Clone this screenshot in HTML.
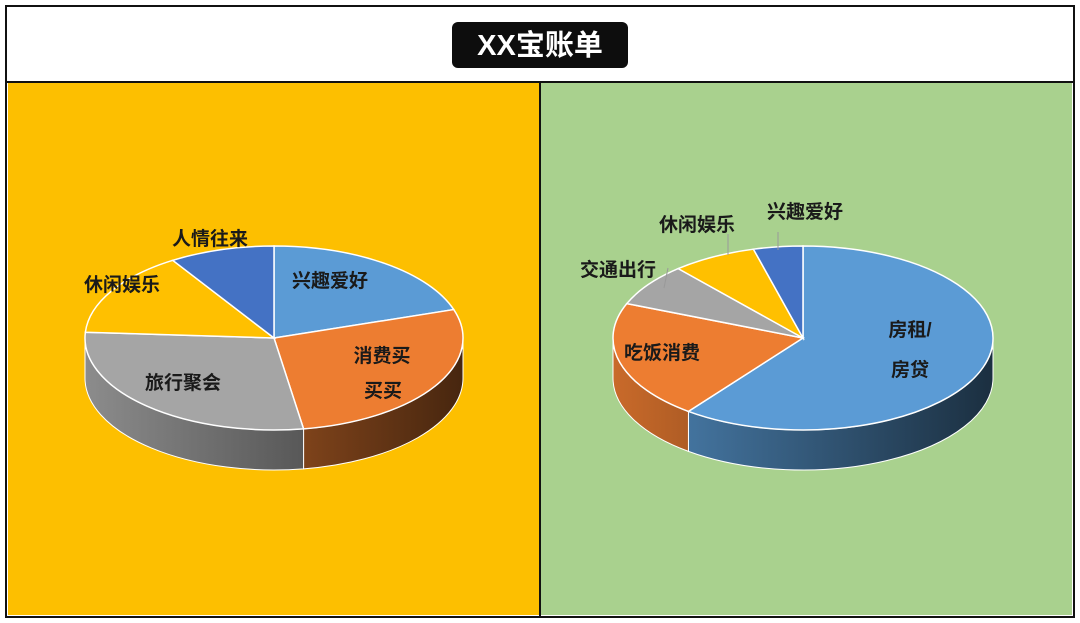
<!DOCTYPE html>
<html><head><meta charset="utf-8"><style>
body{margin:0;width:1080px;height:623px;background:#fff;overflow:hidden;font-family:"Liberation Sans","Noto Sans CJK SC",sans-serif}
svg{position:absolute;left:0;top:0}
</style></head><body>
<svg id="s" width="1080" height="623">
<rect x="6" y="6" width="1068" height="611" fill="#fff" stroke="#111" stroke-width="2"/>
<rect x="8" y="83" width="531" height="532" fill="#fdbf00"/>
<rect x="541" y="83" width="531" height="532" fill="#a9d18e"/>
<line x1="6" y1="82" x2="1074" y2="82" stroke="#111" stroke-width="2"/>
<line x1="540" y1="82" x2="540" y2="617" stroke="#111" stroke-width="2"/>
<rect x="452" y="22" width="176" height="46" rx="6" fill="#0d0d0d"/>
<text x="540" y="55" text-anchor="middle" fill="#fff" font-size="29" font-weight="bold">XX宝账单</text>
</svg>
<script>
const leftCats=["兴趣爱好","消费买买买","旅行聚会","休闲娱乐","人情往来"];
const leftVals=[20,27.5,28.5,15,9];
const rightCats=["房租/房贷","吃饭消费","交通出行","休闲娱乐","兴趣爱好"];
const rightVals=[60.3,20.8,7.5,7.2,4.2];
const leftColors=["#5b9bd5","#ed7d31","#a5a5a5","#ffc000","#4472c4"];
const rightColors=["#5b9bd5","#ed7d31","#a5a5a5","#ffc000","#4472c4"];
const NS="http://www.w3.org/2000/svg";
const svg=document.getElementById('s');
function mk(t,a,p){const e=document.createElementNS(NS,t);for(const k in a)e.setAttribute(k,a[k]);(p||svg).appendChild(e);return e;}
function shade(hex,f){const n=parseInt(hex.slice(1),16);const r=Math.round(((n>>16)&255)*f),g=Math.round(((n>>8)&255)*f),b=Math.round((n&255)*f);return `rgb(${r},${g},${b})`;}
const defs=mk('defs',{});
function pie(id,cx,cy,rx,ry,depth,vals,colors,cats){
  const tot=vals.reduce((a,b)=>a+b,0);
  const P=(a,d)=>{const r=a*Math.PI/180;return [cx+rx*Math.sin(r),cy-ry*Math.cos(r)+(d||0)];};
  const g=mk('g',{});
  let acc=0;const ang=vals.map(v=>{const a=[acc,acc+v/tot*360];acc+=v/tot*360;return a;});
  ang.forEach(([a1,a2],i)=>{
    const s=Math.max(a1,90),e=Math.min(a2,270);if(s>=e)return;
    const gid=id+'g'+i;const lg=mk('linearGradient',{id:gid,gradientUnits:'userSpaceOnUse',x1:cx-rx,y1:0,x2:cx+rx,y2:0},defs);
    mk('stop',{offset:0,'stop-color':shade(colors[i],0.85)},lg);mk('stop',{offset:1,'stop-color':shade(colors[i],0.3)},lg);
    const p1=P(s),p2=P(e),p3=P(e,depth),p4=P(s,depth);
    const side=mk('path',{d:`M${p1}A${rx},${ry} 0 0 1 ${p2}L${p3}A${rx},${ry} 0 0 0 ${p4}Z`,fill:`url(#${gid})`,stroke:'#fff','stroke-width':1},g);
    
    
  });
  ang.forEach(([a1,a2],i)=>{
    const p1=P(a1),p2=P(a2);const large=(a2-a1)>180?1:0;
    const sl=mk('path',{d:`M${cx},${cy}L${p1}A${rx},${ry} 0 ${large} 1 ${p2}Z`,fill:colors[i],stroke:'#fff','stroke-width':1.5},g);
    
    
  });
  return ang;
}
pie('left',274,338,189,92,40,leftVals,leftColors,leftCats);
pie('right',803,338,190,92,40,rightVals,rightColors,rightCats);
function lbl(x,y,t,name){const e=mk('text',{x:x,y:y,'font-size':19,'font-weight':'bold',fill:'#1a1a1a','text-anchor':'middle'});e.textContent=t;}
lbl(210,245,leftCats[4],'label-renqing');
lbl(122,291,leftCats[3],'label-xiuxian-left');
lbl(330,287,leftCats[0],'label-xingqu-left');
lbl(382,362,"消费买",'label-xiaofei-1');
lbl(383,397,"买买",'label-xiaofei-2');
lbl(183,389,leftCats[2],'label-lvxing');
[[728,255,728,234],[668,268,664,288],[778,250,778,232]].forEach((l,i)=>{const e=mk('line',{x1:l[0],y1:l[1],x2:l[2],y2:l[3],stroke:'#999','stroke-width':1});});
lbl(805,218,rightCats[4],'label-xingqu-right');
lbl(697,231,rightCats[3],'label-xiuxian-right');
lbl(618,276,rightCats[2],'label-jiaotong');
lbl(662,359,rightCats[1],'label-chifan');
lbl(910,336,"房租/",'label-fangzu-1');
lbl(910,376,"房贷",'label-fangzu-2');
</script>
</body></html>
